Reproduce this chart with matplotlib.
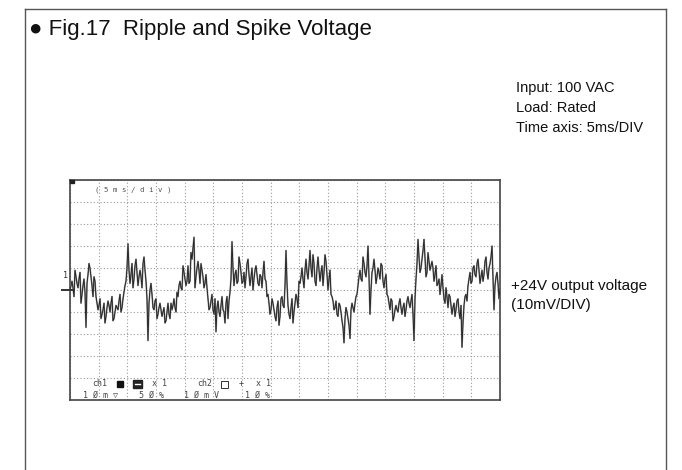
import matplotlib
matplotlib.use("Agg")
import matplotlib.pyplot as plt
from matplotlib.lines import Line2D
from matplotlib.patches import Rectangle
import numpy as np

# ---------------- data ----------------
title = "● Fig.17  Ripple and Spike Voltage"
conditions = ["Input: 100 VAC", "Load: Rated", "Time axis: 5ms/DIV"]
trace_label = ["+24V output voltage", "(10mV/DIV)"]
time_per_div_ms = 5
volt_per_div_mv = 10
n_hdiv = 15
n_vdiv = 10

# ripple + spike trace, mV relative to the ground marker.
# trace_even: samples at even screen columns, trace_odd: the samples between them
trace_even = [
    0, 4, -3, 6, 1, 8, -2, 5, -17, 7, 10, 2, 6,
    -3, -9, -4, -11, -6, -12, -5, -10, -3, -13, -7, -9, -2, -8, -1,
    4, 21, 3, 12, 5, 14, 2, 9, 1, 15, 4, -23, 0,
    -2, -9, -4, -11, -6, -12, -8, -14, -6, -13, -9, -4, -10,
    -3, 4, 0, 8, 2, 11, 4, 14, 24, 6, 13, 3, 9, 1, 7, -4,
    -8, -2, -11, -19, -5, -12, -3, -10, -6, -13, -1,
    22, 2, 9, 4, 12, 3, 8, 6, 14, 2, 10, 5, 11, 3, 7, 1, 13, 4,
    -2, -11, -4, -9, -14, -5, -12, -3, -8, 18, -7, -13, -4, -10, -2, -8,
    3, 10, 1, 14, 5, 18, 6, 12, 2, 15, 4, 11, 8, 13, 0, 9,
    -3, -9, -5, -12, -7, -14, -24, -8, -13, -22, -6, -10, -3,
    2, 9, 4, 12, 6, 20, -11, 8, 14, 3, 10, 5, 11, 1, 7,
    -3, -9, -5, -12, -7, -10, -4, -11, -6, -9, -3, -8, -2,
    -23,
    5, 23, 8, 14, 23, 6, 17, 9, 13, 4, 11,
    3, -2, 7, -4, 1, -8, -3, -11, -6, -9, -4, -13, -26, -7, -2,
    2, 8, 4, 11, 6, 14, 3, 9, 7, 15, 5, 12, 20, -9, 6, 3, 1,
]
trace_odd = [
    2, 1, 9, 3, 5, -6, 2, -1, 3, 12, 6, -3, 4,
    -6, -7, -13, -9, -15, -8, -7, -6, -14, -10, -8, -5, -10, -4, 2,
    10, 9, 7, 1, 11, 8, 6, 6, 12, 9, -4, -6, 3,
    -8, -5, -13, -8, -9, -10, -15, -10, -11, -6, -7, -8, -1,
    2, 1, 11, 5, 4, 3, 17, 19, 1, 10, 9, 12, 6, 3, 1, -9,
    -5, -9, -4, -8, -10, -7, -9, -15, -3, -5, 5,
    10, 7, 3, 15, 8, 4, 1, 12, 7, 6, 0, 9, 7, 2, 6, 8, 5, -3,
    -6, -9, -6, -12, -8, -16, -4, -7, 2, 3, -11, -8, -15, -6, -4, 4,
    6, 5, 9, 8, 11, 10, 16, 4, 10, 9, 8, 2, 16, 7, 5, -2,
    -5, -8, -11, -6, -10, -17, -13, -10, -16, -9, -8, -6, -2,
    6, 5, 15, 8, 11, 6, 0, 10, 9, 6, 8, 12, 4, 5, -2,
    -6, -4, -14, -9, -9, -6, -8, -8, -12, -5, -6, -5, -11,
    -4, 12, 15, 10, 18, 14, 8, 13, 11, 10, 7, 2,
    5, 2, 1, -6, -3, -2, -7, -8, -12, -5, -10, -7, -15, -3, -5,
    5, 3, 10, 7, 12, 9, 6, 4, 13, 8, 10, 15, 5, 2, 8, -4,
]

timebase_label = "( 5 m s / d i v )"

# ---------------- figure ----------------
W, H = 682, 470
fig = plt.figure(figsize=(W / 100, H / 100), dpi=100)
fig.patch.set_facecolor("white")


def P(x, y):
    return (x / W, 1 - y / H)


sans = ["Liberation Sans", "DejaVu Sans"]
mono = ["DejaVu Sans Mono"]

# outer frame (open at the bottom)
frame_c = "#555555"
for (xa, ya), (xb, yb) in [((25, 470), (25, 9)), ((25, 9), (666, 9)), ((666, 9), (666, 470))]:
    a, b = P(xa, ya), P(xb, yb)
    fig.add_artist(Line2D([a[0], b[0]], [a[1], b[1]], color=frame_c, lw=1.0))

fig.text(*P(29, 30), title, family=sans, fontsize=16, va="center", ha="left", color="#111111")

for i, line in enumerate(conditions):
    fig.text(*P(516, 88 + 20 * i), line, family=sans, fontsize=10.5, va="center", ha="left",
             color="#111111")

for i, line in enumerate(trace_label):
    fig.text(*P(511, 286 + 19 * i), line, family=sans, fontsize=11, va="center", ha="left",
             color="#111111")

# ---------------- scope screen ----------------
x0, y0, x1, y1 = 70, 180, 500, 400
ax = fig.add_axes([x0 / W, 1 - y1 / H, (x1 - x0) / W, (y1 - y0) / H])
tmax = n_hdiv * time_per_div_ms
vmax = n_vdiv / 2 * volt_per_div_mv
ax.set_xlim(0, tmax)
ax.set_ylim(-vmax, vmax)
ax.set_xticks(np.arange(0, tmax + 0.1, time_per_div_ms))
ax.set_yticks(np.arange(-vmax, vmax + 0.1, volt_per_div_mv))
ax.tick_params(length=0, labelbottom=False, labelleft=False)
ax.grid(True, color="#9a9a9a", lw=0.8, linestyle=(0, (1, 2)))
for s in ax.spines.values():
    s.set_color("#444444")
    s.set_linewidth(1.2)

assert len(trace_odd) == len(trace_even) - 1
samples = np.empty(len(trace_even) + len(trace_odd))
samples[0::2] = trace_even
samples[1::2] = trace_odd
t = np.linspace(0, tmax, len(samples))
ax.plot(t, samples, color="#8c8c8c", lw=1.2, zorder=3)
ax.plot(t, samples, color="#1e1e1e", lw=0.6, zorder=4)

# timebase label and trigger mark
fig.text(*P(95, 190), timebase_label, family=mono, fontsize=5.3, color="#555555", va="center", ha="left")
fig.add_artist(Rectangle(P(70, 183), 4 / W, 3 / H, color="#222222"))

# channel marker "1" and ground marker
fig.text(*P(66, 276), "1", family=mono, fontsize=6, color="#333333", va="center", ha="center")
a, b = P(62, 290), P(74, 290)
fig.add_artist(Line2D([a[0], b[0]], [a[1], b[1]], color="#333333", lw=1.4))

# bottom readout
rc = "#444444"
fig.text(*P(92, 384), "ch1", family=mono, fontsize=6, color=rc, va="center")
fig.add_artist(Rectangle(P(117, 387), 6 / W, 6 / H, color="#111111"))
fig.add_artist(Rectangle(P(133, 388), 9 / W, 8 / H, color="#222222"))
a, b = P(135, 384), P(140, 384)
fig.add_artist(Line2D([a[0], b[0]], [a[1], b[1]], color="white", lw=1.0))
fig.text(*P(152, 384), "x 1", family=mono, fontsize=6, color=rc, va="center")
fig.text(*P(197, 384), "ch2", family=mono, fontsize=6, color=rc, va="center")
fig.add_artist(Rectangle(P(221, 388), 7 / W, 7 / H, fill=False, ec="#333333", lw=0.7))
fig.text(*P(239, 384), "+", family=mono, fontsize=6, color=rc, va="center")
fig.text(*P(256, 384), "x 1", family=mono, fontsize=6, color=rc, va="center")

fig.text(*P(83, 395), "1 Ø m ▽", family=mono, fontsize=6, color=rc, va="center")
fig.text(*P(139, 395), "5 Ø %", family=mono, fontsize=6, color=rc, va="center")
fig.text(*P(184, 395), "1 Ø m V", family=mono, fontsize=6, color=rc, va="center")
fig.text(*P(245, 395), "1 Ø %", family=mono, fontsize=6, color=rc, va="center")

fig.savefig("out.png", dpi=100, facecolor="white")
